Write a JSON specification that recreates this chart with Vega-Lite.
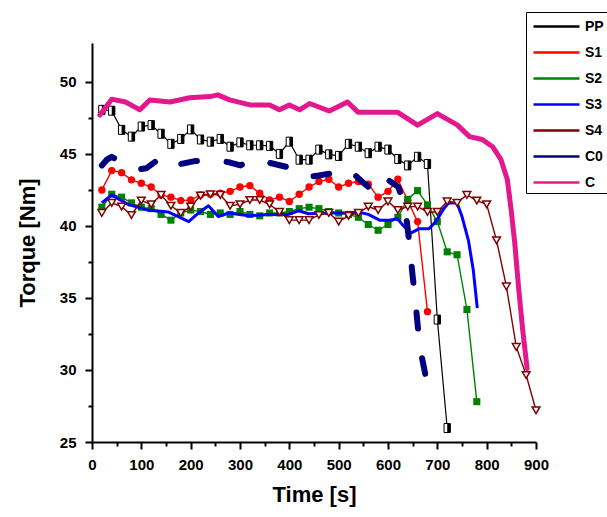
{
  "$schema": "https://vega.github.io/schema/vega-lite/v6.json",
  "width": 444,
  "height": 399,
  "autosize": {"type": "none"},
  "padding": {"left": 92, "top": 43, "right": 71, "bottom": 75},
  "background": "white",
  "config": {"view": {"stroke": null}, "font": "Liberation Sans"},
  "data": {"values": [
    {"series":"PP","time":20,"torque":48.06},{"series":"PP","time":40,"torque":48.0},{"series":"PP","time":60,"torque":46.67},{"series":"PP","time":80,"torque":46.2},{"series":"PP","time":100,"torque":46.9},{"series":"PP","time":120,"torque":47.0},{"series":"PP","time":140,"torque":46.4},{"series":"PP","time":160,"torque":45.7},{"series":"PP","time":180,"torque":46.04},{"series":"PP","time":200,"torque":46.7},{"series":"PP","time":220,"torque":46.0},{"series":"PP","time":240,"torque":45.85},{"series":"PP","time":260,"torque":46.04},{"series":"PP","time":280,"torque":45.5},{"series":"PP","time":300,"torque":45.8},{"series":"PP","time":320,"torque":45.6},{"series":"PP","time":340,"torque":45.6},{"series":"PP","time":360,"torque":45.56},{"series":"PP","time":380,"torque":45.0},{"series":"PP","time":400,"torque":45.85},{"series":"PP","time":420,"torque":44.6},{"series":"PP","time":440,"torque":44.6},{"series":"PP","time":460,"torque":45.3},{"series":"PP","time":480,"torque":44.97},{"series":"PP","time":500,"torque":44.86},{"series":"PP","time":520,"torque":45.7},{"series":"PP","time":540,"torque":45.5},{"series":"PP","time":560,"torque":45.05},{"series":"PP","time":580,"torque":45.5},{"series":"PP","time":600,"torque":45.3},{"series":"PP","time":620,"torque":44.65},{"series":"PP","time":640,"torque":44.2},{"series":"PP","time":660,"torque":44.8},{"series":"PP","time":680,"torque":44.3},{"series":"PP","time":700,"torque":33.5},{"series":"PP","time":720,"torque":25.97},
    {"series":"S1","time":20,"torque":42.5},{"series":"S1","time":40,"torque":43.84},{"series":"S1","time":60,"torque":43.7},{"series":"S1","time":80,"torque":43.2},{"series":"S1","time":100,"torque":42.96},{"series":"S1","time":120,"torque":42.7},{"series":"S1","time":140,"torque":42.15},{"series":"S1","time":160,"torque":42.0},{"series":"S1","time":180,"torque":41.76},{"series":"S1","time":200,"torque":41.8},{"series":"S1","time":220,"torque":42.15},{"series":"S1","time":240,"torque":42.2},{"series":"S1","time":260,"torque":42.27},{"series":"S1","time":280,"torque":42.4},{"series":"S1","time":300,"torque":42.7},{"series":"S1","time":320,"torque":42.8},{"series":"S1","time":340,"torque":42.27},{"series":"S1","time":360,"torque":41.8},{"series":"S1","time":380,"torque":42.0},{"series":"S1","time":400,"torque":41.7},{"series":"S1","time":420,"torque":42.2},{"series":"S1","time":440,"torque":42.7},{"series":"S1","time":460,"torque":43.08},{"series":"S1","time":480,"torque":43.24},{"series":"S1","time":500,"torque":42.7},{"series":"S1","time":520,"torque":42.96},{"series":"S1","time":540,"torque":43.08},{"series":"S1","time":560,"torque":42.9},{"series":"S1","time":580,"torque":42.0},{"series":"S1","time":600,"torque":42.4},{"series":"S1","time":620,"torque":43.24},{"series":"S1","time":640,"torque":41.76},{"series":"S1","time":660,"torque":40.3},{"series":"S1","time":680,"torque":34.05},
    {"series":"S2","time":20,"torque":41.3},{"series":"S2","time":40,"torque":42.2},{"series":"S2","time":60,"torque":42.0},{"series":"S2","time":80,"torque":41.6},{"series":"S2","time":100,"torque":41.3},{"series":"S2","time":120,"torque":41.2},{"series":"S2","time":140,"torque":40.8},{"series":"S2","time":160,"torque":40.4},{"series":"S2","time":180,"torque":40.9},{"series":"S2","time":200,"torque":41.1},{"series":"S2","time":220,"torque":41.0},{"series":"S2","time":240,"torque":40.8},{"series":"S2","time":260,"torque":40.9},{"series":"S2","time":280,"torque":40.8},{"series":"S2","time":300,"torque":41.0},{"series":"S2","time":320,"torque":40.8},{"series":"S2","time":340,"torque":40.7},{"series":"S2","time":360,"torque":40.9},{"series":"S2","time":380,"torque":40.9},{"series":"S2","time":400,"torque":41.0},{"series":"S2","time":420,"torque":41.2},{"series":"S2","time":440,"torque":41.3},{"series":"S2","time":460,"torque":41.2},{"series":"S2","time":480,"torque":41.0},{"series":"S2","time":500,"torque":40.9},{"series":"S2","time":520,"torque":40.8},{"series":"S2","time":540,"torque":40.6},{"series":"S2","time":560,"torque":40.1},{"series":"S2","time":580,"torque":39.7},{"series":"S2","time":600,"torque":40.1},{"series":"S2","time":620,"torque":40.6},{"series":"S2","time":640,"torque":41.85},{"series":"S2","time":660,"torque":42.45},{"series":"S2","time":680,"torque":41.46},{"series":"S2","time":700,"torque":40.3},{"series":"S2","time":720,"torque":38.2},{"series":"S2","time":740,"torque":38.0},{"series":"S2","time":760,"torque":34.2},{"series":"S2","time":780,"torque":27.8},
    {"series":"S3","time":20,"torque":41.6},{"series":"S3","time":40,"torque":42.15},{"series":"S3","time":73,"torque":41.5},{"series":"S3","time":113,"torque":41.1},{"series":"S3","time":154,"torque":40.97},{"series":"S3","time":175,"torque":40.65},{"series":"S3","time":196,"torque":40.3},{"series":"S3","time":216,"torque":40.9},{"series":"S3","time":236,"torque":41.4},{"series":"S3","time":256,"torque":40.65},{"series":"S3","time":277,"torque":40.9},{"series":"S3","time":317,"torque":40.7},{"series":"S3","time":358,"torque":40.8},{"series":"S3","time":398,"torque":40.8},{"series":"S3","time":419,"torque":41.05},{"series":"S3","time":439,"torque":40.85},{"series":"S3","time":480,"torque":40.9},{"series":"S3","time":519,"torque":40.9},{"series":"S3","time":539,"torque":40.97},{"series":"S3","time":560,"torque":40.8},{"series":"S3","time":583,"torque":40.4},{"series":"S3","time":603,"torque":40.4},{"series":"S3","time":619,"torque":40.5},{"series":"S3","time":630,"torque":40.07},{"series":"S3","time":646,"torque":39.5},{"series":"S3","time":663,"torque":39.8},{"series":"S3","time":683,"torque":39.8},{"series":"S3","time":697,"torque":40.3},{"series":"S3","time":713,"torque":41.2},{"series":"S3","time":723,"torque":41.6},{"series":"S3","time":740,"torque":41.6},{"series":"S3","time":750,"torque":40.65},{"series":"S3","time":763,"torque":39.0},{"series":"S3","time":773,"torque":36.9},{"series":"S3","time":781,"torque":34.3},
    {"series":"S4","time":20,"torque":40.9},{"series":"S4","time":40,"torque":41.6},{"series":"S4","time":60,"torque":41.34},{"series":"S4","time":80,"torque":40.76},{"series":"S4","time":100,"torque":41.76},{"series":"S4","time":120,"torque":41.5},{"series":"S4","time":140,"torque":42.15},{"series":"S4","time":160,"torque":41.4},{"series":"S4","time":180,"torque":40.9},{"series":"S4","time":200,"torque":41.34},{"series":"S4","time":220,"torque":42.1},{"series":"S4","time":240,"torque":42.2},{"series":"S4","time":260,"torque":42.15},{"series":"S4","time":280,"torque":41.4},{"series":"S4","time":300,"torque":41.5},{"series":"S4","time":320,"torque":41.8},{"series":"S4","time":340,"torque":41.8},{"series":"S4","time":360,"torque":41.5},{"series":"S4","time":380,"torque":40.97},{"series":"S4","time":400,"torque":40.4},{"series":"S4","time":420,"torque":40.4},{"series":"S4","time":440,"torque":40.4},{"series":"S4","time":460,"torque":40.76},{"series":"S4","time":480,"torque":40.9},{"series":"S4","time":500,"torque":40.3},{"series":"S4","time":520,"torque":40.7},{"series":"S4","time":540,"torque":40.9},{"series":"S4","time":560,"torque":41.34},{"series":"S4","time":580,"torque":41.1},{"series":"S4","time":600,"torque":41.7},{"series":"S4","time":620,"torque":41.1},{"series":"S4","time":640,"torque":41.34},{"series":"S4","time":660,"torque":41.34},{"series":"S4","time":680,"torque":40.97},{"series":"S4","time":700,"torque":40.97},{"series":"S4","time":720,"torque":41.7},{"series":"S4","time":740,"torque":41.6},{"series":"S4","time":760,"torque":42.15},{"series":"S4","time":780,"torque":41.76},{"series":"S4","time":800,"torque":41.5},{"series":"S4","time":820,"torque":39.0},{"series":"S4","time":840,"torque":35.8},{"series":"S4","time":860,"torque":31.6},{"series":"S4","time":880,"torque":29.65},{"series":"S4","time":900,"torque":27.2},
    {"series":"C0","time":20,"torque":44.2},{"series":"C0","time":30,"torque":44.6},{"series":"C0","time":40,"torque":44.8},{"series":"C0","time":55,"torque":44.5},{"series":"C0","time":70,"torque":44.2},{"series":"C0","time":90,"torque":43.9},{"series":"C0","time":110,"torque":44.0},{"series":"C0","time":130,"torque":44.5},{"series":"C0","time":140,"torque":44.7},{"series":"C0","time":157,"torque":44.2},{"series":"C0","time":180,"torque":44.3},{"series":"C0","time":208,"torque":44.5},{"series":"C0","time":230,"torque":44.5},{"series":"C0","time":252,"torque":44.6},{"series":"C0","time":280,"torque":44.4},{"series":"C0","time":301,"torque":44.2},{"series":"C0","time":322,"torque":44.6},{"series":"C0","time":345,"torque":44.5},{"series":"C0","time":370,"torque":44.3},{"series":"C0","time":394,"torque":44.1},{"series":"C0","time":415,"torque":43.8},{"series":"C0","time":436,"torque":43.4},{"series":"C0","time":460,"torque":43.5},{"series":"C0","time":486,"torque":43.66},{"series":"C0","time":502,"torque":43.8},{"series":"C0","time":519,"torque":43.94},{"series":"C0","time":529,"torque":43.66},{"series":"C0","time":550,"torque":43.0},{"series":"C0","time":576,"torque":42.27},{"series":"C0","time":590,"torque":42.8},{"series":"C0","time":600,"torque":43.2},{"series":"C0","time":621,"torque":42.7},{"series":"C0","time":630,"torque":41.8},{"series":"C0","time":637,"torque":40.65},{"series":"C0","time":643,"torque":38.9},{"series":"C0","time":650,"torque":36.5},{"series":"C0","time":655,"torque":35.0},{"series":"C0","time":661,"torque":32.8},{"series":"C0","time":668,"torque":31.0},{"series":"C0","time":675,"torque":29.8},{"series":"C0","time":682,"torque":28.0},
    {"series":"C","time":16,"torque":47.7},{"series":"C","time":40,"torque":48.8},{"series":"C","time":68,"torque":48.6},{"series":"C","time":97,"torque":48.06},{"series":"C","time":117,"torque":48.75},{"series":"C","time":158,"torque":48.6},{"series":"C","time":198,"torque":48.9},{"series":"C","time":239,"torque":48.98},{"series":"C","time":255,"torque":49.1},{"series":"C","time":279,"torque":48.75},{"series":"C","time":320,"torque":48.4},{"series":"C","time":360,"torque":48.4},{"series":"C","time":380,"torque":48.06},{"series":"C","time":400,"torque":48.4},{"series":"C","time":421,"torque":48.06},{"series":"C","time":441,"torque":48.5},{"series":"C","time":481,"torque":47.98},{"series":"C","time":518,"torque":48.6},{"series":"C","time":539,"torque":47.9},{"series":"C","time":582,"torque":47.9},{"series":"C","time":619,"torque":47.9},{"series":"C","time":660,"torque":47.0},{"series":"C","time":700,"torque":47.8},{"series":"C","time":741,"torque":47.0},{"series":"C","time":765,"torque":46.2},{"series":"C","time":791,"torque":46.0},{"series":"C","time":812,"torque":45.5},{"series":"C","time":829,"torque":44.6},{"series":"C","time":842,"torque":43.2},{"series":"C","time":850,"torque":41.0},{"series":"C","time":857,"torque":38.8},{"series":"C","time":865,"torque":35.6},{"series":"C","time":873,"torque":32.8},{"series":"C","time":882,"torque":30.1}
  ]},
  "encoding": {
    "x": {"field": "time", "type": "quantitative", "title": "Time [s]",
      "scale": {"domain": [0, 900], "nice": false},
      "axis": {"values": [0,50,100,150,200,250,300,350,400,450,500,550,600,650,700,750,800,850,900],
        "labelExpr": "datum.value % 100 == 0 ? datum.label : ''",
        "tickSize": 7,
        "tickDash": {"condition": {"test": "datum.value % 100 != 0", "value": [4, 20]}, "value": [1, 0]},
        "grid": false, "domainColor": "black", "domainWidth": 2, "tickColor": "black", "tickWidth": 2,
        "labelFont": "Liberation Sans", "labelFontSize": 15, "labelFontWeight": "bold", "labelColor": "black",
        "labelPadding": 8, "labelFlush": false, "labelOverlap": false,
        "titleFont": "Liberation Sans", "titleFontSize": 22, "titleFontWeight": "bold", "titleColor": "black", "titlePadding": 12}},
    "y": {"field": "torque", "type": "quantitative", "title": "Torque [Nm]",
      "scale": {"domain": [25, 52.7], "nice": false, "zero": false},
      "axis": {"values": [25,27.5,30,32.5,35,37.5,40,42.5,45,47.5,50],
        "labelExpr": "datum.value % 5 == 0 ? datum.label : ''",
        "tickSize": 7,
        "tickDash": {"condition": {"test": "datum.value % 5 != 0", "value": [4, 20]}, "value": [1, 0]},
        "grid": false, "domainColor": "black", "domainWidth": 2, "tickColor": "black", "tickWidth": 2,
        "labelFont": "Liberation Sans", "labelFontSize": 15, "labelFontWeight": "bold", "labelColor": "black",
        "labelPadding": 9, "labelFlush": false, "labelOverlap": false,
        "titleFont": "Liberation Sans", "titleFontSize": 22, "titleFontWeight": "bold", "titleColor": "black", "titlePadding": 20}}
  },
  "layer": [
    {"transform": [{"filter": {"field": "series", "equal": "PP"}}],
     "mark": {"type": "line", "strokeWidth": 1.2},
     "encoding": {"color": {"field": "series", "type": "nominal",
       "scale": {"domain": ["PP","S1","S2","S3","S4","C0","C"], "range": ["#000000","#ff0000","#008000","#0000ff","#800000","#000080","#e2188c"]},
       "legend": {"orient": "none", "legendX": 434, "legendY": -31, "title": null,
         "strokeColor": "black", "fillColor": "white", "padding": 3,
         "symbolType": "M-2.3,0H2.3", "symbolSize": 400, "symbolStrokeWidth": 2.5, "symbolOpacity": 1,
         "symbolOffset": 16, "labelOffset": 17, "rowPadding": 7,
         "labelFont": "Liberation Sans", "labelFontSize": 14, "labelFontWeight": "bold", "labelColor": "black"}}}},
    {"transform": [{"filter": {"field": "series", "equal": "PP"}}],
     "mark": {"type": "point", "shape": "M-0.7,-1H0.7V1H-0.7Z", "filled": true, "fill": "white", "stroke": "black", "strokeWidth": 1, "size": 81, "opacity": 1}},
    {"transform": [{"filter": {"field": "series", "equal": "PP"}}],
     "mark": {"type": "point", "shape": "M0,-1H0.7V1H0Z", "filled": true, "fill": "black", "strokeWidth": 0, "size": 81, "opacity": 1}},
    {"transform": [{"filter": {"field": "series", "equal": "S1"}}],
     "mark": {"type": "line", "strokeWidth": 1.4},
     "encoding": {"color": {"field": "series", "type": "nominal"}}},
    {"transform": [{"filter": {"field": "series", "equal": "S1"}}],
     "mark": {"type": "point", "shape": "circle", "filled": true, "fill": "#ff0000", "strokeWidth": 0, "size": 55, "opacity": 1}},
    {"transform": [{"filter": {"field": "series", "equal": "S2"}}],
     "mark": {"type": "line", "strokeWidth": 1.4},
     "encoding": {"color": {"field": "series", "type": "nominal"}}},
    {"transform": [{"filter": {"field": "series", "equal": "S2"}}],
     "mark": {"type": "point", "shape": "square", "filled": true, "fill": "#008000", "strokeWidth": 0, "size": 50, "opacity": 1}},
    {"transform": [{"filter": {"field": "series", "equal": "S3"}}],
     "mark": {"type": "line", "strokeWidth": 3, "strokeJoin": "round"},
     "encoding": {"color": {"field": "series", "type": "nominal"}}},
    {"transform": [{"filter": {"field": "series", "equal": "S4"}}],
     "mark": {"type": "line", "strokeWidth": 1.4},
     "encoding": {"color": {"field": "series", "type": "nominal"}}},
    {"transform": [{"filter": {"field": "series", "equal": "S4"}}],
     "mark": {"type": "point", "shape": "triangle-down", "filled": true, "fill": "white", "stroke": "#800000", "strokeWidth": 1.5, "size": 60, "opacity": 1}},
    {"transform": [{"filter": {"field": "series", "equal": "C0"}}],
     "mark": {"type": "line", "strokeWidth": 6, "strokeDash": [16, 30], "strokeCap": "round", "strokeJoin": "round"},
     "encoding": {"color": {"field": "series", "type": "nominal"}}},
    {"transform": [{"filter": {"field": "series", "equal": "C"}}],
     "mark": {"type": "line", "strokeWidth": 5, "strokeCap": "round", "strokeJoin": "round"},
     "encoding": {"color": {"field": "series", "type": "nominal"}}}
  ]
}
